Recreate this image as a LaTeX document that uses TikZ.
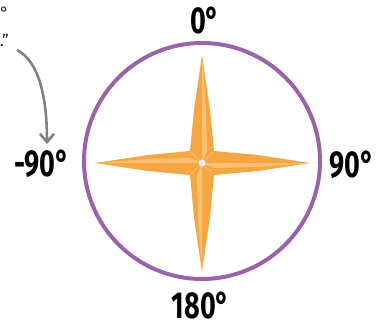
\documentclass[tikz,border=0pt]{standalone}
\usepackage{fontspec}
\setmainfont{Fira Sans}
\newfontfamily\narrowfont[FakeStretch=0.72]{Fira Sans}
\usetikzlibrary{arrows.meta}

\definecolor{dialviolet}{RGB}{155,98,172}
\definecolor{starorange}{RGB}{245,165,66}
\definecolor{starlight}{RGB}{250,192,112}
\definecolor{notegray}{RGB}{128,128,128}

\tikzset{
  anglabel/.style={font=\narrowfont\bfseries\fontsize{32}{32}\selectfont,text=black,inner sep=0pt},
  notetext/.style={font=\fontsize{14}{14}\selectfont,text=black!85,inner sep=0pt,anchor=east}
}

\begin{document}
\begin{tikzpicture}[x=0.03cm,y=-0.03cm,>={Straight Barb[length=7pt,width=12pt]}]
  \clip (0,0) rectangle (385,326);
  % dial
  \draw[dialviolet,line width=3.4pt] (202,161) circle (118);
  % four-pointed star
  \fill[starorange] (202,55) -- (210,110) -- (214,151) -- (258,155) -- (310,163)
    -- (258,171) -- (214,175) -- (210,217) -- (202,272) -- (194,217)
    -- (190,175) -- (148,171) -- (95,163) -- (148,155) -- (190,151)
    -- (194,110) -- cycle;
  \fill[starlight] (202,55) -- (206,110) -- (207,151) -- (202,163) -- cycle;
  \fill[starlight] (310,163) -- (258,167) -- (214,168) -- (202,163) -- cycle;
  \fill[starlight] (202,272) -- (198,217) -- (197,175) -- (202,163) -- cycle;
  \fill[starlight] (95,163) -- (148,159) -- (190,158) -- (202,163) -- cycle;
  \draw[starlight,line width=0.8pt] (191,152) -- (213,174) (213,152) -- (191,174);
  \fill[white!75!pink] (202,163) circle (3.5);
  % angle labels
  \node[anglabel] (n0) at (205,21) {0°};
  \node[anglabel] (n90) at (352,164.5) {90°};
  \node[anglabel] (m90) at (42,163.5) {-90°};
  \node[anglabel] (n180) at (201,306) {180°};
  % clipped side note
  \node[notetext] (noteA) at (9,13) {0°};
  \node[notetext] (noteB) at (9,40) {.”};
  \coordinate (tail) at (17,50);
  \coordinate (tip) at (47,144);
  \draw[notegray,line width=2.2pt,->] (tail) .. controls (40,62) and (47,100) .. (tip);
\end{tikzpicture}
\end{document}
